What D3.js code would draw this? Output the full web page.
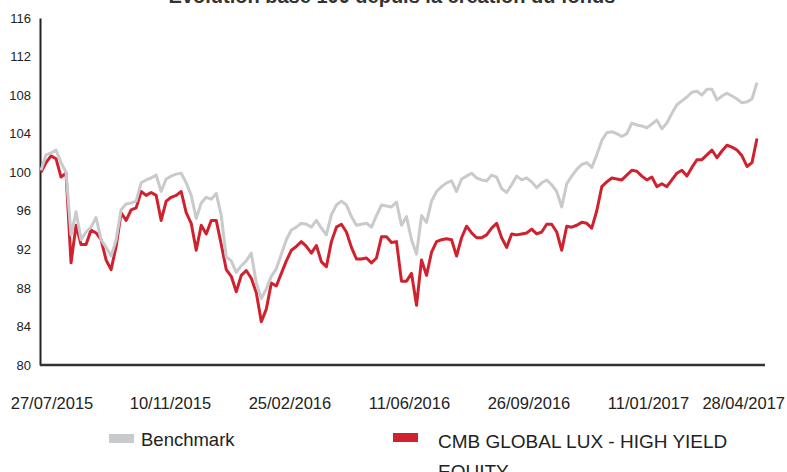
<!DOCTYPE html>
<html>
<head>
<meta charset="utf-8">
<script src="https://cdn.jsdelivr.net/npm/d3@7"></script>
<style>
  body { margin: 0; background: #fff; }
  svg { display: block; font-family: "Liberation Sans", Arial, sans-serif; }
  .labelText { fill: #222; }
</style>
</head>
<body>
<svg id="svg_perf" width="787" height="472"></svg>
<script>
// base 100 series, sampled evenly between the first and last date
const startDate = new Date(2015, 6, 27);
const endDate = new Date(2017, 3, 28);

const benchmark = [
  100.2, 101.8, 102.0, 102.3, 101.0, 100.0, 93.5, 95.9, 93.0, 93.8,
  94.3, 95.3, 93.0, 92.2, 91.3, 93.0, 96.1, 96.7, 96.8, 97.0,
  98.9, 99.2, 99.4, 99.7, 98.0, 99.3, 99.6, 99.8, 99.9, 98.9,
  97.6, 95.2, 96.8, 97.4, 97.2, 97.8, 95.5, 91.2, 90.8, 89.6,
  90.3, 90.8, 91.6, 88.5, 86.9, 87.9, 89.2, 90.0, 91.5, 93.0,
  94.0, 94.3, 94.7, 94.6, 94.3, 95.0, 94.2, 93.5, 95.6, 96.6,
  97.0, 96.6, 95.4, 94.5, 94.6, 94.7, 94.3, 95.5, 96.6, 96.5,
  96.4, 96.9, 94.5, 95.4, 93.0, 91.5, 95.5, 94.8, 97.0, 98.0,
  98.5, 98.9, 99.1, 98.0, 99.3, 99.6, 99.9, 99.4, 99.2, 99.1,
  99.7, 99.5, 98.3, 97.9, 98.7, 99.6, 99.2, 99.4, 99.0, 98.4,
  98.9, 99.2, 98.7, 98.0, 96.4, 98.8, 99.6, 100.3, 100.8, 101.0,
  100.5, 101.8, 103.3, 104.1, 104.2, 104.0, 103.7, 104.0, 105.1, 104.9,
  104.8, 104.6, 105.0, 105.4, 104.5, 105.1, 106.1, 107.0, 107.4, 107.8,
  108.3, 108.4, 108.0, 108.6, 108.6, 107.5, 107.9, 108.2, 107.9, 107.6,
  107.2, 107.3, 107.6, 109.3
];

const fund = [
  100.0, 101.0, 101.7, 101.4, 99.5, 99.9, 90.6, 94.5, 92.5, 92.5,
  94.0, 93.7, 93.0, 90.9, 89.9, 92.3, 95.8, 95.0, 96.1, 96.3,
  98.0, 97.6, 97.9, 97.6, 95.0, 97.0, 97.4, 97.6, 98.0, 95.8,
  94.7, 91.9, 94.5, 93.6, 95.0, 95.0, 92.5, 89.9, 89.2, 87.6,
  89.3, 89.8, 89.0, 87.5, 84.5, 85.8, 88.5, 88.2, 89.5, 90.8,
  91.9, 92.3, 92.8, 92.3, 91.6, 92.4, 90.7, 90.2, 92.8, 94.3,
  94.6, 93.8, 92.2, 91.0, 91.0, 91.1, 90.6, 91.1, 93.3, 93.3,
  92.7, 92.8, 88.7, 88.7, 89.5, 86.2, 90.9, 89.3, 91.7, 92.8,
  93.0, 93.1, 93.0, 91.3, 93.2, 94.4, 93.7, 93.2, 93.2, 93.5,
  94.2, 94.7, 93.2, 92.2, 93.6, 93.5, 93.6, 93.7, 94.1, 93.6,
  93.8, 94.6, 94.6, 93.8, 91.9, 94.4, 94.3, 94.5, 94.8, 94.7,
  94.2, 96.0, 98.5, 99.0, 99.4, 99.3, 99.2, 99.7, 100.2, 100.1,
  99.6, 99.2, 99.5, 98.5, 98.8, 98.5, 99.2, 99.9, 100.2, 99.6,
  100.5, 101.3, 101.3, 101.8, 102.3, 101.5, 102.2, 102.8, 102.6, 102.3,
  101.7, 100.6, 101.0, 103.5
];

const tickDates = ['27/07/2015', '10/11/2015', '25/02/2016', '11/06/2016', '26/09/2016', '11/01/2017', '28/04/2017'];
const yTicks = [80, 84, 88, 92, 96, 100, 104, 108, 112, 116];

const seriesNames = ['Benchmark', 'CMB GLOBAL LUX - HIGH YIELD EQUITY'];
const seriesColors = ['#c9cacc', '#d0222e'];

const plotLeft = 41;
const plotRight = 757;
const plotTop = 18;
const plotBottom = 365;

const parseDate = d3.timeParse('%d/%m/%Y');

const xscale = d3.scaleTime()
  .domain([startDate, endDate])
  .range([plotLeft, plotRight]);

const yscale = d3.scaleLinear()
  .domain([80, 116])
  .range([plotBottom, plotTop]);

const toPoints = (values) => {
  const span = endDate - startDate;
  return values.map((v, i) => ({
    date: new Date(+startDate + span * i / (values.length - 1)),
    value: v
  }));
};

const svg = d3.select('#svg_perf');

// title, cut at the top edge like the original export
svg.append('text')
  .text('Evolution base 100 depuis la création du fonds')
  .attr('x', 392)
  .attr('y', 3)
  .attr('text-anchor', 'middle')
  .attr('font-size', 20)
  .attr('font-weight', 'bold')
  .attr('fill', '#333');

// left axis: labels only plus the vertical line
const leftAxis = d3.axisLeft(yscale)
  .tickValues(yTicks)
  .tickSize(0)
  .tickPadding(9);

const gy = svg.append('g')
  .attr('transform', `translate(${plotLeft - 1}, 0)`)
  .call(leftAxis);
gy.select('.domain').attr('stroke', '#222').attr('stroke-width', 2);
gy.selectAll('text')
  .attr('class', 'labelText')
  .attr('font-size', 13)
  .attr('font-family', '"Liberation Sans", Arial, sans-serif');

// bottom axis line
const bottomAxis = d3.axisBottom(xscale)
  .tickValues(tickDates.map(parseDate))
  .tickSize(0)
  .tickFormat(() => '');

const gx = svg.append('g')
  .attr('transform', `translate(0, ${plotBottom})`)
  .call(bottomAxis);
gx.select('.domain')
  .attr('d', `M${plotLeft - 1},0H765`)
  .attr('stroke', '#333')
  .attr('stroke-width', 2.5);

// date labels, kept inside the picture
const dateLabels = svg.append('g');
dateLabels.selectAll('text')
  .data(tickDates)
  .enter()
  .append('text')
  .text((d) => d)
  .attr('class', 'labelText')
  .attr('font-size', 16.5)
  .attr('y', 409)
  .attr('text-anchor', 'middle')
  .attr('x', function (d) {
    const w = this.getComputedTextLength();
    const cx = xscale(parseDate(d)) + 11;
    return Math.min(cx, 785 - w / 2);
  });

// lines: fund first, benchmark over it
const line = d3.line()
  .x((d) => xscale(d.date))
  .y((d) => yscale(d.value))
  .curve(d3.curveLinear);

svg.append('path')
  .datum(toPoints(fund))
  .attr('fill', 'none')
  .attr('stroke', seriesColors[1])
  .attr('stroke-width', 3)
  .attr('stroke-linejoin', 'round')
  .attr('d', line);

svg.append('path')
  .datum(toPoints(benchmark))
  .attr('fill', 'none')
  .attr('stroke', seriesColors[0])
  .attr('stroke-width', 3)
  .attr('stroke-linejoin', 'round')
  .attr('d', line);

// legend
const legend = svg.append('g');
const legendPos = [{ x: 109, y: 434 }, { x: 393, y: 433 }];

legend.selectAll('rect')
  .data(seriesNames)
  .enter()
  .append('rect')
  .attr('x', (d, i) => legendPos[i].x)
  .attr('y', (d, i) => legendPos[i].y)
  .attr('width', 25)
  .attr('height', 9)
  .attr('fill', (d, i) => seriesColors[i]);

legend.append('text')
  .text(seriesNames[0])
  .attr('class', 'labelText')
  .attr('x', 141)
  .attr('y', 446)
  .attr('font-size', 18.5);

const fundLabel = legend.append('text')
  .attr('class', 'labelText')
  .attr('x', 438)
  .attr('y', 448)
  .attr('font-size', 19);
fundLabel.append('tspan').text('CMB GLOBAL LUX - HIGH YIELD');
fundLabel.append('tspan').text('EQUITY').attr('x', 438).attr('dy', 30);
</script>
</body>
</html>
